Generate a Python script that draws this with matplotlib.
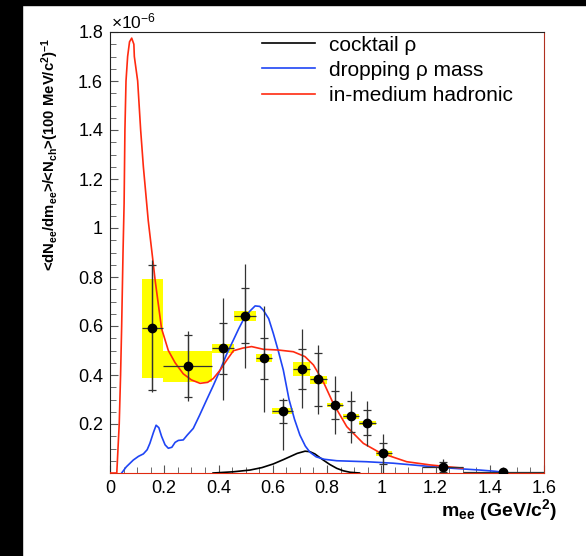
import numpy as np
import matplotlib
matplotlib.use('Agg')
import matplotlib.pyplot as plt
from matplotlib.patches import Rectangle
from matplotlib.ticker import MultipleLocator, FixedLocator, FuncFormatter

plt.rcParams['font.family'] = ['Liberation Sans', 'DejaVu Sans']
plt.rcParams['mathtext.fontset'] = 'custom'
plt.rcParams['mathtext.rm'] = 'Liberation Sans'
plt.rcParams['mathtext.it'] = 'Liberation Sans'
plt.rcParams['mathtext.bf'] = 'Liberation Sans:bold'

# measured points (units of 1e-6)
x_pts = [0.156, 0.286, 0.418, 0.498, 0.566, 0.638, 0.707, 0.768, 0.829, 0.888, 0.949, 1.008, 1.229, 1.448]
y_pts = [0.592, 0.437, 0.510, 0.640, 0.468, 0.254, 0.426, 0.384, 0.279, 0.231, 0.205, 0.082, 0.024, 0.004]
bin_lo = [0.117, 0.197, 0.377, 0.458, 0.537, 0.598, 0.676, 0.737, 0.799, 0.860, 0.919, 0.981, 1.15, 1.30]
bin_hi = [0.197, 0.377, 0.458, 0.537, 0.598, 0.676, 0.737, 0.799, 0.860, 0.919, 0.981, 1.038, 1.30, 1.60]
sys_lo = [0.388, 0.373, 0.489, 0.622, 0.454, 0.242, 0.397, 0.363, 0.268, 0.222, 0.197, 0.069, 0.024, 0.004]
sys_hi = [0.792, 0.499, 0.528, 0.662, 0.484, 0.267, 0.452, 0.397, 0.287, 0.240, 0.213, 0.090, 0.024, 0.004]
tot_lo = [0.33, 0.295, 0.300, 0.430, 0.250, 0.094, 0.264, 0.240, 0.158, 0.124, 0.111, 0.0, 0.0, 0.0]
tot_hi = [0.87, 0.580, 0.713, 0.852, 0.682, 0.307, 0.586, 0.522, 0.397, 0.335, 0.294, 0.159, 0.056, 0.010]
stat_lo = [0.34, 0.310, 0.404, 0.529, 0.384, 0.205, 0.343, 0.273, 0.219, 0.169, 0.155, 0.035, 0.005, 0.0]
stat_hi = [0.85, 0.565, 0.611, 0.754, 0.552, 0.300, 0.506, 0.491, 0.335, 0.294, 0.257, 0.121, 0.045, 0.008]

# model curves
cocktail_x = [0.38, 0.455, 0.516, 0.56, 0.602, 0.64, 0.664, 0.69, 0.719, 0.737, 0.755, 0.786, 0.81, 0.836, 0.86, 0.885, 0.92]
cocktail_y = [0.0, 0.005, 0.012, 0.022, 0.037, 0.055, 0.067, 0.080, 0.089, 0.087, 0.078, 0.053, 0.035, 0.019, 0.009, 0.003, 0.0]

drop_x = [0.043, 0.06, 0.086, 0.105, 0.123, 0.137, 0.147, 0.160, 0.170, 0.180, 0.190, 0.203, 0.215, 0.228,
          0.240, 0.252, 0.27, 0.285, 0.307, 0.33, 0.356, 0.38, 0.406, 0.43, 0.455, 0.475, 0.491, 0.515,
          0.535, 0.552, 0.565, 0.585, 0.602, 0.62, 0.639, 0.66, 0.68, 0.70, 0.72, 0.737, 0.76, 0.79,
          0.836, 0.946, 1.044, 1.155, 1.266, 1.364, 1.42, 1.475]
drop_y = [0.0, 0.025, 0.053, 0.068, 0.078, 0.095, 0.121, 0.165, 0.195, 0.185, 0.150, 0.115, 0.101, 0.105,
          0.125, 0.133, 0.135, 0.155, 0.182, 0.235, 0.298, 0.355, 0.420, 0.485, 0.543, 0.59, 0.624, 0.66,
          0.682, 0.68, 0.665, 0.63, 0.57, 0.50, 0.42, 0.30, 0.22, 0.155, 0.11, 0.085, 0.066, 0.056,
          0.050, 0.046, 0.040, 0.029, 0.019, 0.012, 0.007, 0.0]

hadr_x = [0.0, 0.025, 0.034, 0.039, 0.043, 0.048, 0.052, 0.055, 0.059, 0.065, 0.072, 0.080, 0.088, 0.0897,
          0.102, 0.113, 0.123, 0.141, 0.160, 0.166, 0.19, 0.215, 0.24, 0.27, 0.30, 0.332, 0.36, 0.381,
          0.406, 0.43, 0.455, 0.49, 0.522, 0.565, 0.62, 0.676, 0.719, 0.75, 0.786, 0.823, 0.873, 0.934,
          0.995, 1.094, 1.18, 1.25, 1.30]
hadr_y = [0.0, 0.0, 0.2, 0.4, 0.6, 0.9, 1.1, 1.4, 1.6, 1.70, 1.76, 1.775, 1.75, 1.70,
          1.6, 1.4, 1.25, 1.03, 0.85, 0.79, 0.59, 0.50, 0.45, 0.405, 0.38, 0.366, 0.37, 0.386,
          0.42, 0.46, 0.499, 0.51, 0.516, 0.505, 0.502, 0.495, 0.475, 0.441, 0.373, 0.284, 0.189, 0.121,
          0.083, 0.046, 0.033, 0.025, 0.02]

series_labels = ['cocktail \u03c1', 'dropping \u03c1 mass', 'in-medium hadronic']

x_pts = np.array(x_pts)
y_pts = np.array(y_pts)
bin_lo = np.array(bin_lo)
bin_hi = np.array(bin_hi)
sys_lo = np.array(sys_lo)
sys_hi = np.array(sys_hi)

fig = plt.figure(figsize=(5.86, 5.56), dpi=100)
fig.patches.append(Rectangle((0, 0), 22 / 586, 1, transform=fig.transFigure, color='black', zorder=0))
fig.patches.append(Rectangle((0, 1 - 5 / 556), 1, 5 / 556, transform=fig.transFigure, color='black', zorder=0))

ax = fig.add_axes([110 / 586, 1 - 473 / 556, 434 / 586, 441 / 556])

# systematic boxes
ax.bar((bin_lo + bin_hi) / 2, sys_hi - sys_lo, width=bin_hi - bin_lo, bottom=sys_lo,
       color='#ffff00', linewidth=0, zorder=1)

# curves
l1, = ax.plot(cocktail_x, cocktail_y, color='black', lw=1.2, zorder=3)
l2, = ax.plot(drop_x, drop_y, color='#1f45f5', lw=1.2, zorder=3)
l3, = ax.plot(hadr_x, hadr_y, color='#ff2a10', lw=1.2, zorder=3)

# error bars
ax.vlines(x_pts, tot_lo, tot_hi, color='#333333', lw=0.9, zorder=4)
ax.hlines(y_pts, bin_lo, bin_hi, color='#333333', lw=0.9, zorder=4)
ax.errorbar(x_pts, y_pts, yerr=[y_pts - np.array(stat_lo), np.array(stat_hi) - y_pts],
            fmt='none', ecolor='#333333', elinewidth=0.9, capsize=3, capthick=0.9, zorder=4)
ax.plot(x_pts, y_pts, 'o', color='black', ms=6, zorder=5)

ax.set_xlim(0, 1.6)
ax.set_ylim(0, 1.8)
ax.xaxis.set_major_locator(MultipleLocator(0.2))
ax.xaxis.set_minor_locator(MultipleLocator(0.05))
ax.yaxis.set_major_locator(FixedLocator([0.2, 0.4, 0.6, 0.8, 1.0, 1.2, 1.4, 1.6, 1.8]))
ax.yaxis.set_minor_locator(MultipleLocator(0.05))
fmt = FuncFormatter(lambda v, p: f'{v:g}')
ax.xaxis.set_major_formatter(fmt)
ax.yaxis.set_major_formatter(fmt)
ax.tick_params(which='both', direction='in', top=False, right=False, color='#555555',
               labelsize=13, pad=5)
ax.tick_params(which='major', length=6)
ax.tick_params(which='minor', length=4)
for s in ['top', 'left']:
    ax.spines[s].set_color('#222222')
ax.spines['bottom'].set_color('#e02a10')
ax.spines['right'].set_color('#b03020')

ax.legend([l1, l2, l3], series_labels, loc='upper left', bbox_to_anchor=(0.350, 0.992),
          frameon=False, fontsize=15, handlelength=2.55, handletextpad=0.67,
          labelspacing=0.3, borderpad=0, borderaxespad=0)

fig.text(111 / 586, 1 - 28 / 556, '\u00d710$^{-6}$', ha='left', va='baseline', fontsize=12.5)
fig.text(50 / 586, 1 - 38 / 556,
         r'<dN$_{\mathbf{ee}}$/dm$_{\mathbf{ee}}$>/<N$_{\mathbf{ch}}$>(100 MeV/c$^{\mathbf{2}}$)$^{\mathbf{-1}}$',
         rotation=90, ha='center', va='top', fontsize=10.7, fontweight='bold')
fig.text(556.7 / 586, 1 - 510 / 556, r'm$_{\mathbf{ee}}$ (GeV/c$^{\mathbf{2}}$)',
         ha='right', va='center', fontsize=14, fontweight='bold')

fig.savefig('out.png', dpi=100)
